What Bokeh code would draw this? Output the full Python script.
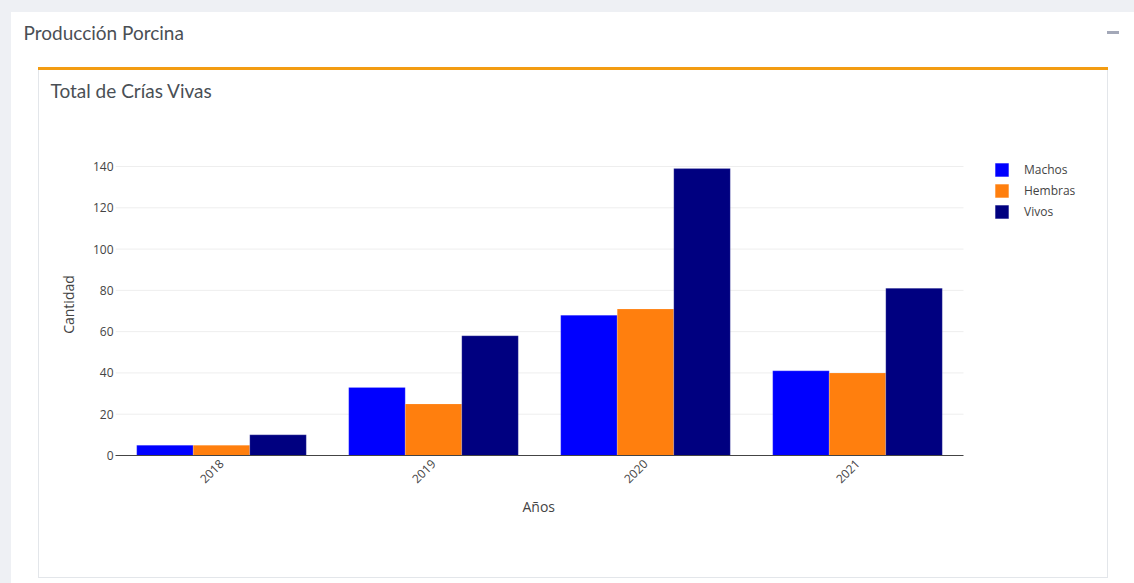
import math
from bokeh.plotting import figure
from bokeh.models import (Range1d, Legend, LegendItem, Title,
                          ColumnDataSource, FixedTicker)
from bokeh.transform import dodge
from bokeh.embed import file_html
from bokeh.resources import INLINE

# ---------------- data ----------------
years = ["2018", "2019", "2020", "2021"]
machos = [5, 33, 68, 41]
hembras = [5, 25, 71, 40]
vivos = [10, 58, 139, 81]
series_names = ["Machos", "Hembras", "Vivos"]
series_colors = ["#0000ff", "#ff7f0e", "#000080"]
y_ticks = [0, 20, 40, 60, 80, 100, 120, 140]
page_title = "Producción Porcina"
chart_title = "Total de Crías Vivas"
x_title = "Años"
y_title = "Cantidad"

# ---------------- layout constants ----------------
W, H = 1134, 583
FL, FR, FT, FB = 115, 963, 153, 455      # plot area in canvas px
FONT = "Open Sans"
HFONT = "Lato"
PAGE_BG = "#eef0f4"
CARD_LINE = "#e3e6ea"
TXT = "#444444"

n = len(years)
centers = [i + 0.5 for i in range(n)]
x_end = n * (W - FL) / (FR - FL)          # frame runs to the right edge (room for legend)

p = figure(width=W, height=H, x_range=Range1d(0, x_end),
           y_range=Range1d(0, max(vivos) * 1.0526),
           output_backend="svg", toolbar_location=None,
           min_border_left=FL, min_border_right=0,
           min_border_top=0, min_border_bottom=H - FB)
p.title = None
p.background_fill_alpha = 0
p.border_fill_alpha = 0
p.outline_line_color = None

# page / card decorations drawn as CSS backgrounds behind the transparent canvas
rects = [  # (x, y, w, h, color)
    (0, 0, W, 12, PAGE_BG),
    (0, 0, 11, H, PAGE_BG),
    (38, 67, 1070, 3, "#f39c12"),
    (38, 70, 1, 507, CARD_LINE),
    (1107, 70, 1, 507, CARD_LINE),
    (38, 577, 1070, 1, CARD_LINE),
    (1107, 31, 12, 3, "#a3a8b8"),
]
p.styles = {
    "background-color": "white",
    "background-image": ", ".join("linear-gradient({0},{0})".format(c) for *_, c in rects),
    "background-size": ", ".join("{}px {}px".format(w, h) for _, _, w, h, _ in rects),
    "background-position": ", ".join("{}px {}px".format(x, y) for x, y, _, _, _ in rects),
    "background-repeat": "no-repeat",
}

# grid lines (only across the category area)
p.segment(x0=[0] * (len(y_ticks) - 1), x1=[n] * (len(y_ticks) - 1),
          y0=y_ticks[1:], y1=y_ticks[1:], line_color="#eeeeee", line_width=1, level="underlay")

src = ColumnDataSource(dict(x=centers, Machos=machos, Hembras=hembras, Vivos=vivos))
bw = 0.8 / 3
offsets = [-bw, 0.0, bw]
renderers = []
for name, col, off in zip(series_names, series_colors, offsets):
    r = p.vbar(x=dodge("x", off), top=name, width=bw,
               source=src, fill_color=col, line_color="white", line_alpha=0.35,
               line_width=0.5)
    renderers.append(r)

# axes
for ax in (p.xaxis, p.yaxis):
    ax.major_tick_line_color = None
    ax.minor_tick_line_color = None
    ax.major_tick_out = 0
    ax.major_tick_in = 0
    ax.minor_tick_out = 0
    ax.minor_tick_in = 0
    ax.major_label_text_font = FONT
    ax.major_label_text_font_size = "12px"
    ax.major_label_text_color = TXT
    ax.axis_label_text_font = FONT
    ax.axis_label_text_font_size = "14px"
    ax.axis_label_text_font_style = "normal"
    ax.axis_label_text_color = TXT

p.xaxis.ticker = FixedTicker(ticks=centers)
p.xaxis.major_label_overrides = {c: y for c, y in zip(centers, years)}
p.xaxis.bounds = (0, n)
p.xaxis.axis_line_color = TXT
p.xaxis.axis_line_width = 1
p.xaxis.major_label_orientation = math.pi / 4
p.xaxis.major_label_standoff = 6

p.yaxis.ticker = FixedTicker(ticks=y_ticks)
p.yaxis.axis_line_color = None
p.yaxis.major_label_standoff = 2
p.yaxis.axis_label = y_title
p.yaxis.axis_label_standoff = 12

p.xgrid.grid_line_color = None
p.ygrid.grid_line_color = None

# x-axis title, centred under the category area (not the whole frame)
p.add_layout(Title(text=x_title, align="left", offset=522 - FL, standoff=12,
                   vertical_align="top", text_font=FONT, text_font_size="14px",
                   text_font_style="normal", text_color=TXT), "below")

# legend (inside frame area, which extends to the right edge)
legend_h = 3 * 17 + 2 * 4
legend = Legend(items=[LegendItem(label=s, renderers=[r]) for s, r in zip(series_names, renderers)],
                location=(993 - FL, FB - 160.5 - legend_h), orientation="vertical",
                glyph_width=17, glyph_height=17, label_height=17, spacing=4,
                label_standoff=14, padding=0, margin=0,
                border_line_color=None, background_fill_alpha=0,
                label_text_font=FONT, label_text_font_size="12px",
                label_text_color=TXT)
p.add_layout(legend)

# titles (later added = further from the plot); a blank spacer keeps the plot top in place
spacer = Title(text=" ", standoff=34, text_font=HFONT, text_font_size="1px")
t2 = Title(text=chart_title, align="left", offset=50 - FL, standoff=26,
           vertical_align="top", text_font=HFONT, text_font_size="19px",
           text_font_style="normal", text_color="#4a4f55")
t1 = Title(text=page_title, align="left", offset=23 - FL, standoff=40,
           vertical_align="top", text_font=HFONT, text_font_size="19px",
           text_font_style="normal", text_color="#4a4f55")
p.add_layout(spacer, "above")
p.add_layout(t2, "above")
p.add_layout(t1, "above")

open("out.html", "w").write(file_html(p, INLINE))
